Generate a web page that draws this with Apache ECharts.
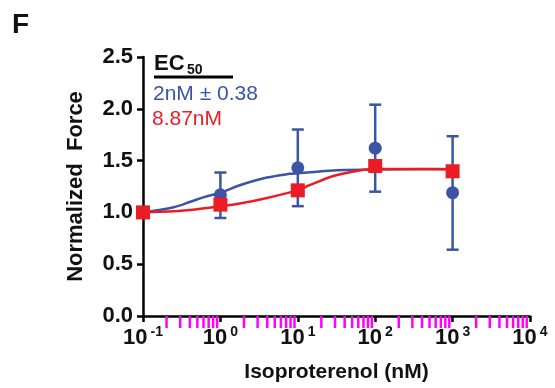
<!DOCTYPE html>
<html>
<head>
<meta charset="utf-8">
<script src="https://cdn.jsdelivr.net/npm/echarts@6/dist/echarts.min.js"></script>
<style>
html,body{margin:0;padding:0;background:#fff;}
#chart{width:555px;height:388px;}
</style>
</head>
<body>
<div id="chart"></div>
<script>
// ---- data ----
var doses = [0.1, 1, 10, 100, 1000];               // Isoproterenol (nM)
var blueMean = [1.0, 1.17, 1.43, 1.62, 1.19];
var blueLow  = [1.0, 0.946, 1.06, 1.20, 0.64];
var blueHigh = [1.0, 1.385, 1.80, 2.04, 1.735];
var redMean  = [1.0, 1.075, 1.213, 1.448, 1.397];

// fitted curves
var blueCurveX = [0.1, 0.25, 0.4, 0.63, 1, 1.78, 4, 7.9, 10, 14.5, 31.6, 100, 1000];
var blueCurveY = [1.0, 1.05, 1.10, 1.15, 1.19, 1.262, 1.336, 1.372, 1.378, 1.387, 1.406, 1.415, 1.418];
var redCurveX  = [0.1, 0.25, 0.5, 1, 1.78, 4, 9.7, 14.5, 28.8, 57.5, 100, 417, 1000];
var redCurveY  = [1.0, 1.01, 1.03, 1.059, 1.085, 1.139, 1.213, 1.265, 1.351, 1.40, 1.418, 1.418, 1.415];

var yTicks = ['0.0', '0.5', '1.0', '1.5', '2.0', '2.5'];
var xTickExponents = ['-1', '0', '1', '2', '3', '4'];
var decadeStarts = [0.1, 1, 10, 100, 1000];
var minorMultipliers = [2, 3, 4, 5, 6, 7, 8, 9];
var ec50Blue = '2nM \u00b1 0.38';
var ec50Red = '8.87nM';

var BLUE = '#3b54a5';
var RED = '#ec1c24';
var FONT = '"Liberation Sans", Arial, Helvetica, sans-serif';

function zip(a, b) { return a.map(function (v, i) { return [v, b[i]]; }); }

var chart = echarts.init(document.getElementById('chart'));

var baseGraphic = [
  {type: 'text', left: 12, top: 11, style: {text: 'F', font: 'bold 28px ' + FONT, fill: '#111'}},
  {type: 'text', left: 154, top: 53, style: {text: 'EC', font: 'bold 22px ' + FONT, fill: '#111'}},
  {type: 'text', left: 187, top: 63, style: {text: '50', font: 'bold 14px ' + FONT, fill: '#111'}},
  {type: 'rect', shape: {x: 154, y: 75.5, width: 79, height: 3}, style: {fill: '#000'}},
  {type: 'text', left: 153, top: 84, style: {text: ec50Blue, font: '21px ' + FONT, fill: BLUE}},
  {type: 'text', left: 152, top: 109, style: {text: ec50Red, font: '21px ' + FONT, fill: RED}}
];

var option = {
  animation: false,
  backgroundColor: '#fff',
  grid: {left: 143, right: 25, top: 57, bottom: 72},
  xAxis: {
    type: 'log', logBase: 10, min: 0.1, max: 10000, splitNumber: 5,
    name: 'Isoproterenol (nM)', nameLocation: 'middle', nameGap: 46,
    nameTextStyle: {fontFamily: FONT, fontWeight: 'bold', fontSize: 21, color: '#111'},
    axisLine: {lineStyle: {color: '#000', width: 2.5}},
    axisTick: {show: true, length: 6, lineStyle: {color: '#000', width: 2.5}},
    splitLine: {show: false},
    axisLabel: {
      margin: 9,
      formatter: function (v) {
        var e = Math.round(Math.log10(v));
        var idx = e + 1;
        return '{b|10}{s|' + xTickExponents[idx] + '}';
      },
      rich: {
        b: {fontFamily: FONT, fontWeight: 'bold', fontSize: 22, color: '#111', lineHeight: 24, verticalAlign: 'bottom'},
        s: {fontFamily: FONT, fontWeight: 'bold', fontSize: 14, color: '#111', lineHeight: 24, verticalAlign: 'top', padding: [0, 0, 0, 3]}
      }
    }
  },
  yAxis: {
    type: 'value', min: 0, max: 2.5, interval: 0.5,
    name: 'Normalized  Force', nameLocation: 'middle', nameGap: 56, nameRotate: 90,
    nameTextStyle: {fontFamily: FONT, fontWeight: 'bold', fontSize: 22, color: '#111'},
    axisLine: {show: true, lineStyle: {color: '#000', width: 2.5}},
    axisTick: {show: true, length: 6, lineStyle: {color: '#000', width: 2.5}},
    splitLine: {show: false},
    axisLabel: {
      margin: 10, fontFamily: FONT, fontWeight: 'bold', fontSize: 22, color: '#111',
      formatter: function (v) { return yTicks[Math.round(v / 0.5)]; }
    }
  },
  graphic: baseGraphic,
  series: [
    {
      type: 'custom', name: 'blueErr', clip: false,
      data: doses.map(function (d, i) { return [d, blueLow[i], blueHigh[i]]; }),
      encode: {x: 0, y: [1, 2]},
      renderItem: function (params, api) {
        var lo = api.coord([api.value(0), api.value(1)]);
        var hi = api.coord([api.value(0), api.value(2)]);
        var w = 6;
        var st = {stroke: BLUE, lineWidth: 2.5};
        return {type: 'group', children: [
          {type: 'line', shape: {x1: lo[0], y1: lo[1], x2: hi[0], y2: hi[1]}, style: st},
          {type: 'line', shape: {x1: hi[0] - w, y1: hi[1], x2: hi[0] + w, y2: hi[1]}, style: st},
          {type: 'line', shape: {x1: lo[0] - w, y1: lo[1], x2: lo[0] + w, y2: lo[1]}, style: st}
        ]};
      }
    },
    {
      type: 'line', name: 'blueFit', z: 3, data: zip(blueCurveX, blueCurveY),
      showSymbol: false, smooth: 0.35, lineStyle: {color: BLUE, width: 2.5}
    },
    {
      type: 'line', name: 'redFit', z: 4, data: zip(redCurveX, redCurveY),
      showSymbol: false, smooth: 0.35, lineStyle: {color: RED, width: 2.5}
    },
    {
      type: 'scatter', name: 'blue', z: 5, data: zip(doses, blueMean),
      symbol: 'circle', symbolSize: 13, itemStyle: {color: BLUE, opacity: 1}
    },
    {
      type: 'scatter', name: 'red', z: 6, data: zip(doses, redMean),
      symbol: 'rect', symbolSize: 14, itemStyle: {color: RED, opacity: 1}
    }
  ]
};
chart.setOption(option);

// minor log ticks below the x axis, placed through the chart's own x scale
var tickGraphic = [];
decadeStarts.forEach(function (d) {
  minorMultipliers.forEach(function (m) {
    var p = chart.convertToPixel({gridIndex: 0}, [d * m, 0]);
    if (p && isFinite(p[0]) && isFinite(p[1])) {
      tickGraphic.push({type: 'rect', shape: {x: p[0] - 1, y: p[1], width: 2.5, height: 12},
                        style: {fill: '#ff00ff'}, z: 10});
    }
  });
});
chart.setOption({graphic: baseGraphic.concat(tickGraphic)});
</script>
</body>
</html>
